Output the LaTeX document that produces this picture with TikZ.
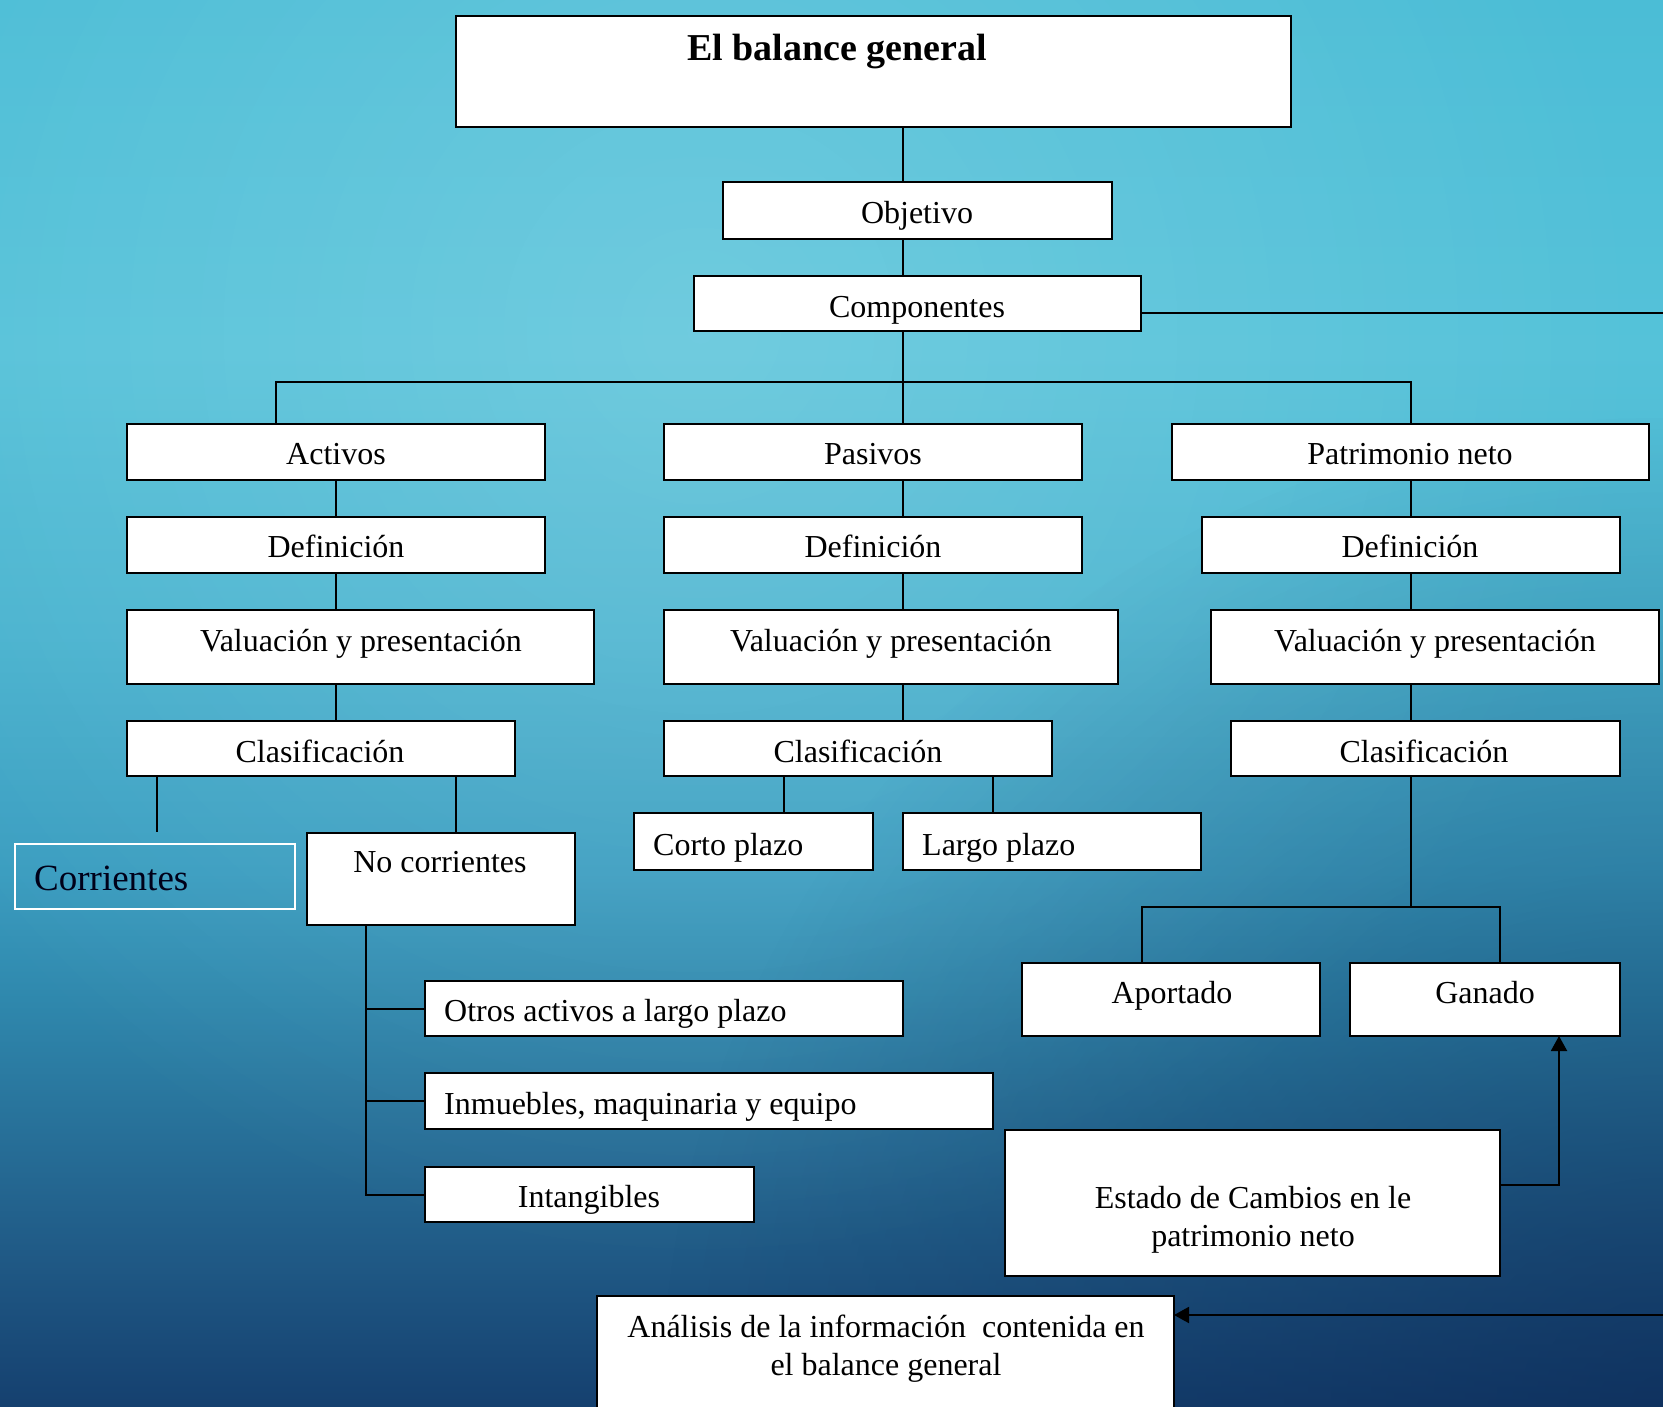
\documentclass[tikz,border=0pt]{standalone}
\usepackage{fontspec}
\setmainfont{Liberation Serif}
\usetikzlibrary{arrows.meta,fadings,calc}

\definecolor{bgA}{HTML}{15406F}
\definecolor{bgB}{HTML}{205A86}
\definecolor{bgC}{HTML}{2F88AD}
\definecolor{bgD}{HTML}{3A9DC0}
\definecolor{bgE}{HTML}{49B3CF}
\definecolor{bgF}{HTML}{55C2D9}
\definecolor{bgG}{HTML}{4BBDD6}
\definecolor{bgDark}{HTML}{0A2450}

% vertical backdrop; the path covers 25bp (bottom) to 75bp (top)
\pgfdeclareverticalshading{backdrop}{100bp}{%
  color(0bp)=(bgA); color(25bp)=(bgA); color(30.5bp)=(bgB); color(39.5bp)=(bgC);
  color(44bp)=(bgD); color(52.5bp)=(bgE); color(62.5bp)=(bgF);
  color(75bp)=(bgG); color(100bp)=(bgG)}
\tikzfading[name=softglow, inner color=transparent!0, outer color=transparent!100]

% box: name, x1, y1, x2, y2, extra style
\newcommand\boxnode[6]{%
  \node[box,#6,anchor=north west,
        minimum width={(#4-#2)*1pt},minimum height={(#5-#3)*1pt}] (#1) at (#2,#3) {};}

\begin{document}
\begin{tikzpicture}[x=1pt,y=-1pt,
  box/.style={draw=black,fill=white,line width=2pt,inner sep=0pt,outer sep=0pt},
  ghostbox/.style={draw=white,fill=none,line width=1.6pt},
  txt/.style={font=\fontsize{32}{38}\selectfont,inner sep=0pt,anchor=mid,text=black,yshift=-8pt},
  txtl/.style={txt,anchor=mid west},
  txtm/.style={font=\fontsize{32}{38}\selectfont,inner sep=0pt,align=center,text=black,yshift=-3pt},
  link/.style={line width=2pt,draw=black},
  arrowlink/.style={link,-{Triangle[length=15pt,width=16pt]}},
]
\useasboundingbox (0,0) rectangle (1663,1407);
\clip (0,0) rectangle (1663,1407);

% backdrop
\shade[shading=backdrop] (0,0) rectangle (1663,1407);
\fill[white,opacity=0.16,path fading=softglow] (700,330) circle (950);
\fill[bgDark,opacity=0.5,path fading=softglow] (1663,1407) circle (1000);

% title and upper boxes
\boxnode{title}{456}{16}{1291}{127}{}
\node[txt,font=\bfseries\fontsize{38}{42}\selectfont] (titlet) at (837,50) {El balance general};
\boxnode{obj}{723}{182}{1112}{239}{}
\node[txt] (objt) at (917,213) {Objetivo};
\boxnode{comp}{694}{276}{1141}{331}{}
\node[txt] (compt) at (917,307) {Componentes};

% three components
\boxnode{act}{127}{424}{545}{480}{}
\node[txt] (actt) at (336,454) {Activos};
\boxnode{pas}{664}{424}{1082}{480}{}
\node[txt] (past) at (873,454) {Pasivos};
\boxnode{pat}{1172}{424}{1649}{480}{}
\node[txt] (patt) at (1410,454) {Patrimonio neto};

% definitions
\boxnode{actdef}{127}{517}{545}{573}{}
\node[txt] (actdeft) at (336,547) {Definición};
\boxnode{pasdef}{664}{517}{1082}{573}{}
\node[txt] (pasdeft) at (873,547) {Definición};
\boxnode{patdef}{1202}{517}{1620}{573}{}
\node[txt] (patdeft) at (1410,547) {Definición};

% valuation
\boxnode{actval}{127}{610}{594}{684}{}
\node[txt] (actvalt) at (361,641) {Valuación y presentación};
\boxnode{pasval}{664}{610}{1118}{684}{}
\node[txt] (pasvalt) at (891,641) {Valuación y presentación};
\boxnode{patval}{1211}{610}{1659}{684}{}
\node[txt] (patvalt) at (1435,641) {Valuación y presentación};

% classification
\boxnode{actcl}{127}{721}{515}{776}{}
\node[txt] (actclt) at (320,752) {Clasificación};
\boxnode{pascl}{664}{721}{1052}{776}{}
\node[txt] (pasclt) at (858,752) {Clasificación};
\boxnode{patcl}{1231}{721}{1620}{776}{}
\node[txt] (patclt) at (1424,752) {Clasificación};

% asset classes
\boxnode{corr}{15}{844}{295}{909}{ghostbox}
\node[txtl,font=\fontsize{37}{42}\selectfont,text=black!90!blue,yshift=-2pt] (corrt) at (34,878) {Corrientes};
\boxnode{nocorr}{307}{833}{575}{925}{}
\node[txt] (nocorrt) at (440,862) {No corrientes};

\boxnode{otros}{425}{981}{903}{1036}{}
\node[txtl] (otrost) at (444,1011) {Otros activos a largo plazo};
\boxnode{inm}{425}{1073}{993}{1129}{}
\node[txtl] (inmt) at (444,1104) {Inmuebles, maquinaria y equipo};
\boxnode{intang}{425}{1167}{754}{1222}{}
\node[txt] (intangt) at (589,1197) {Intangibles};

% liability terms
\boxnode{corto}{634}{813}{873}{870}{}
\node[txtl] (cortot) at (653,845) {Corto plazo};
\boxnode{largo}{903}{813}{1201}{870}{}
\node[txtl] (largot) at (922,845) {Largo plazo};

% equity parts
\boxnode{aport}{1022}{963}{1320}{1036}{}
\node[txt] (aportt) at (1172,993) {Aportado};
\boxnode{gan}{1350}{963}{1620}{1036}{}
\node[txt] (gant) at (1485,993) {Ganado};

% statements
\boxnode{estado}{1005}{1130}{1500}{1276}{}
\node[txtm] (estadot) at (1253,1217) {Estado de Cambios en le\\patrimonio neto};
\boxnode{anal}{597}{1296}{1174}{1430}{}
\node[txtm] (analt) at (886,1346) {Análisis de la información\ \ contenida en\\el balance general};

% reference columns for connectors
\coordinate (trunk) at (903,0);
\coordinate (busL) at (276,0);
\coordinate (busy) at (0,382);
\coordinate (corrx) at (157,0);
\coordinate (ncx) at (456,0);
\coordinate (cortox) at (784,0);
\coordinate (largox) at (993,0);
\coordinate (spine) at (366,0);
\coordinate (eqy) at (0,907);
\coordinate (aportx) at (1142,0);
\coordinate (ganx) at (1500,0);
\coordinate (loopx) at (1559,0);
\coordinate (loopy) at (0,1185);
\coordinate (edgeA) at (1663,313);
\coordinate (edgeB) at (1663,1315);

% main trunk
\draw[link] (title.south -| trunk) -- (obj.north -| trunk);
\draw[link] (obj.south -| trunk) -- (comp.north -| trunk);
\draw[link] (comp.south -| trunk) -- (pas.north -| trunk);
\draw[link] (comp.east |- edgeA) -- (edgeA);
\draw[link] (act.north -| busL) -- (busL |- busy) -- (pat.north |- busy) -- (pat.north);

% asset column
\draw[link] (act.south) -- (actdef.north);
\draw[link] (actdef.south) -- (actdef.south |- actval.north);
\draw[link] (actdef.south |- actval.south) -- (actdef.south |- actcl.north);
\draw[link] (actcl.south -| corrx) -- ([yshift=12pt]corr.north -| corrx);
\draw[link] (actcl.south -| ncx) -- (nocorr.north -| ncx);
\draw[link] (nocorr.south -| spine) -- (spine |- intang.west) -- (intang.west);
\draw[link] (spine |- otros.west) -- (otros.west);
\draw[link] (spine |- inm.west) -- (inm.west);

% liability column
\draw[link] (pas.south -| trunk) -- (pasdef.north -| trunk);
\draw[link] (pasdef.south -| trunk) -- (pasval.north -| trunk);
\draw[link] (pasval.south -| trunk) -- (pascl.north -| trunk);
\draw[link] (pascl.south -| cortox) -- (corto.north -| cortox);
\draw[link] (pascl.south -| largox) -- (largo.north -| largox);

% equity column
\draw[link] (pat.south) -- (pat.south |- patdef.north);
\draw[link] (pat.south |- patdef.south) -- (pat.south |- patval.north);
\draw[link] (pat.south |- patval.south) -- (pat.south |- patcl.north);
\draw[link] (pat.south |- patcl.south) -- (pat.south |- eqy);
\draw[link] (aport.north -| aportx) -- (aportx |- eqy) -- (ganx |- eqy) -- (gan.north -| ganx);

% arrows
\draw[arrowlink] (estado.east |- loopy) -- (loopx |- loopy) -- (gan.south -| loopx);
\draw[arrowlink] (edgeB) -- (anal.east |- edgeB);
\end{tikzpicture}
\end{document}
